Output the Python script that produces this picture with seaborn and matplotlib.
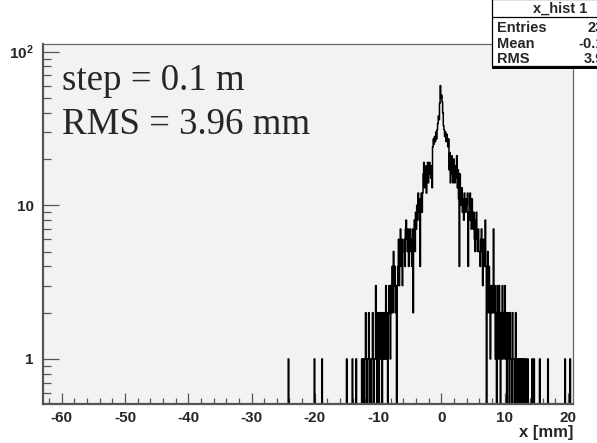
import numpy as np
import pandas as pd
import matplotlib
matplotlib.use("Agg")
import matplotlib.pyplot as plt
import seaborn as sns
from matplotlib.patches import Rectangle
from matplotlib.lines import Line2D
from matplotlib.ticker import MultipleLocator, FixedLocator, LogLocator, NullFormatter, FixedFormatter

# ---------------- data ----------------
bin_width = 0.1           # mm
core_start = -13.0        # left edge of first core bin (mm)
core_counts = [
    0, 0, 0, 0, 1, 0, 1, 1, 0, 1,          # -13.0 .. -12.1
    2, 1, 0, 1, 1, 2, 0, 1, 1, 0,          # -12.0 .. -11.1
    1, 2, 1, 0, 1, 1, 3, 1, 0, 2,          # -11.0 .. -10.1
    1, 0, 2, 1, 1, 2, 0, 1, 2, 1,          # -10.0 .. -9.1
    2, 1, 3, 1, 2, 0, 2, 3, 2, 1,          # -9.0 .. -8.1
    3, 2, 4, 2, 5, 3, 4, 2, 3, 0,          # -8.0 .. -7.1
    3, 4, 6, 3, 5, 7, 4, 6, 3, 5,          # -7.0 .. -6.1
    5, 6, 4, 7, 8, 6, 5, 7, 4, 6,          # -6.0 .. -5.1
    7, 5, 6, 4, 7, 2, 6, 8, 5, 9,          # -5.0 .. -4.1
    7, 10, 8, 12, 9, 11, 4, 10, 12, 9,     # -4.0 .. -3.1
    12, 16, 19, 13, 15, 18, 12, 17, 19, 14,  # -3.0 .. -2.1
    16, 19, 17, 15, 18, 13, 24, 27, 25, 28,  # -2.0 .. -1.1
    26, 30, 27, 31, 34, 38, 36, 46, 60, 50,  # -1.0 .. -0.1
    52, 47, 40, 33, 31, 28, 30, 26, 29, 27,  # 0.0 .. 0.9
    24, 27, 17, 22, 14, 19, 21, 16, 14, 20,  # 1.0 .. 1.9
    17, 14, 18, 15, 21, 13, 17, 11, 4, 16,   # 2.0 .. 2.9
    12, 10, 13, 9, 11, 8, 12, 10, 9, 11,     # 3.0 .. 3.9
    10, 12, 4, 9, 8, 12, 10, 7, 11, 8,       # 4.0 .. 4.9
    7, 9, 6, 5, 8, 9, 6, 5, 7, 5,            # 5.0 .. 5.9
    5, 4, 6, 7, 5, 3, 6, 5, 4, 8,            # 6.0 .. 6.9
    4, 0, 3, 5, 2, 4, 3, 1, 3, 2,            # 7.0 .. 7.9
    3, 2, 7, 2, 3, 1, 2, 0, 3, 2,            # 8.0 .. 8.9
    1, 3, 2, 0, 2, 1, 3, 2, 1, 2,            # 9.0 .. 9.9
    3, 1, 2, 0, 1, 2, 1, 0, 2, 1,            # 10.0 .. 10.9
    1, 0, 2, 1, 1, 0, 1, 2, 0, 1,            # 11.0 .. 11.9
    1, 0, 1, 1, 0, 1, 0, 1, 1, 0,            # 12.0 .. 12.9
    1, 1, 0, 1, 0, 0, 1, 0, 0, 0,            # 13.0 .. 13.9
]
tail_x = [-24.15, -20.05, -18.85, -14.95, -14.05, -13.45,
          14.35, 14.65, 15.55, 16.85, 19.55, 20.35]
tail_counts = [1, 1, 1, 1, 1, 1, 1, 1, 1, 1, 1, 1]

hist_lo, hist_hi = -63.0, 21.0
x_ticks_major = [-60, -50, -40, -30, -20, -10, 0, 10, 20]
y_tick_vals = [1, 10, 100]
y_tick_labels = ["1", "10", r"$\mathbf{10^{2}}$"]

text_lines = ["step = 0.1 m", "RMS = 3.96 mm"]
stats_title = "x_hist 1"
stats_names = ["Entries", "Mean", "RMS"]
stats_values = ["2346", "-0.104", "3.961"]

# ---------------- figure ----------------
sns.set_style("ticks")
plt.rcParams["font.family"] = ["Liberation Sans", "DejaVu Sans"]
plt.rcParams["font.weight"] = "bold"
plt.rcParams["axes.unicode_minus"] = False
plt.rcParams["mathtext.fontset"] = "custom"
plt.rcParams["mathtext.bf"] = "Liberation Sans:bold"
plt.rcParams["mathtext.rm"] = "Liberation Sans:bold"

W, H = 597, 443
fig = plt.figure(figsize=(W / 100, H / 100), dpi=100, facecolor="white")
ax = fig.add_axes([43.3 / W, (H - 404) / H, (573 - 43.3) / W, 360 / H])
ax.set_facecolor("#f2f2f2")

centers = core_start + bin_width * (np.arange(len(core_counts)) + 0.5)
df = pd.DataFrame({
    "x": np.concatenate([centers, np.array(tail_x)]),
    "w": np.concatenate([np.array(core_counts), np.array(tail_counts)]).astype(float),
})
n_bins = int(round((hist_hi - hist_lo) / bin_width))
edges = [float(v) for v in np.linspace(hist_lo, hist_hi, n_bins + 1)]
sns.histplot(data=df, x="x", weights="w", bins=edges, element="step",
             fill=False, color="black", linewidth=1.1, ax=ax)

ax.set_yscale("log")
ax.set_xlim(-62.9, 20.8)
ax.set_ylim(0.509, 112)
ax.set_xlabel("")
ax.set_ylabel("")

ax.xaxis.set_major_locator(FixedLocator(x_ticks_major))
ax.xaxis.set_minor_locator(MultipleLocator(2))
ax.yaxis.set_major_locator(FixedLocator(y_tick_vals))
ax.yaxis.set_major_formatter(FixedFormatter(y_tick_labels))
ax.yaxis.set_minor_locator(LogLocator(base=10, subs=np.arange(2, 10)))
ax.yaxis.set_minor_formatter(NullFormatter())

tc = "#555555"
ax.tick_params(axis="x", which="major", direction="in", length=7.9, width=0.9,
               color=tc, labelsize=11, pad=5, top=False)
ax.tick_params(axis="x", which="minor", direction="in", length=4.3, width=0.9,
               color=tc, top=False)
ax.tick_params(axis="y", which="major", direction="in", length=11.5, width=0.9,
               color=tc, labelsize=11, pad=7, right=False)
ax.tick_params(axis="y", which="minor", direction="in", length=5.8, width=0.9,
               color=tc, right=False)

for s in ["left", "bottom"]:
    ax.spines[s].set_linewidth(1.6)
    ax.spines[s].set_color("#555555")
for s in ["top", "right"]:
    ax.spines[s].set_linewidth(0.9)
    ax.spines[s].set_color("#666666")

# axis title
fig.text(573 / W, 1 - 437 / H, "x [mm]", ha="right", va="baseline",
         fontsize=12, fontweight="bold")

# annotations
for txt, yb in zip(text_lines, [90, 134]):
    fig.text(61.5 / W, 1 - yb / H, txt, ha="left", va="baseline",
             fontsize=26.6, fontweight="normal",
             family=["Liberation Serif", "DejaVu Serif"])

# stats box (its right part lies beyond the figure edge, as in the original)
bx0, bx1, by_top, by_bot = 492, 628, -1, 66
fig.add_artist(Rectangle((bx0 / W, 1 - (by_bot + 2.5) / H), (bx1 - bx0) / W, 2.5 / H,
                         transform=fig.transFigure, facecolor="black",
                         edgecolor="none", zorder=5))
fig.add_artist(Rectangle((bx0 / W, 1 - by_bot / H), (bx1 - bx0) / W,
                         (by_bot - by_top) / H, transform=fig.transFigure,
                         facecolor="white", edgecolor="black", linewidth=0.9,
                         zorder=6))
fig.add_artist(Line2D([bx0 / W, bx1 / W], [1 - 17 / H, 1 - 17 / H],
                      transform=fig.transFigure, color="black", linewidth=0.9,
                      zorder=7))
fig.text(560 / W, 1 - 12.5 / H, stats_title, ha="center", va="baseline",
         fontsize=10.5, fontweight="bold", zorder=8)
for name, val, yb in zip(stats_names, stats_values, [32.5, 48, 63]):
    fig.text(497 / W, 1 - yb / H, name, ha="left", va="baseline",
             fontsize=10.5, fontweight="bold", zorder=8)
    fig.text(620 / W, 1 - yb / H, val, ha="right", va="baseline",
             fontsize=10.5, fontweight="bold", zorder=8)

fig.savefig("out.png", dpi=100, facecolor="white")
